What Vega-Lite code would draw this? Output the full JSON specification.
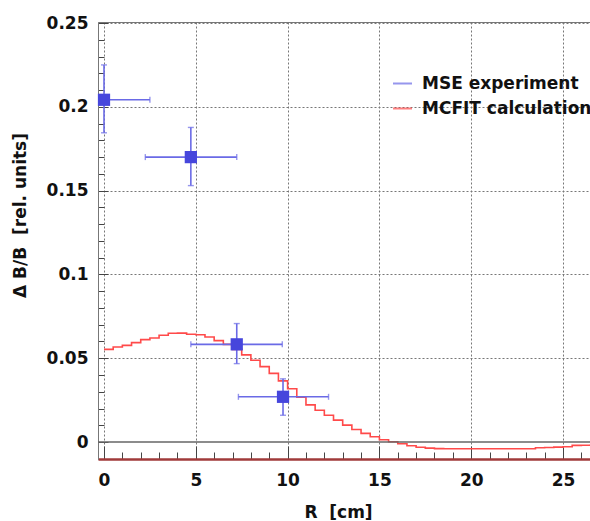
{
  "$schema": "https://vega.github.io/schema/vega-lite/v6.json",
  "width": 492,
  "height": 437,
  "autosize": {"type": "none"},
  "padding": {"left": 98, "top": 22, "right": 0, "bottom": 62},
  "background": "white",
  "config": {
    "view": {"stroke": "#777", "strokeWidth": 1},
    "font": "DejaVu Sans"
  },
  "datasets": {
    "pts": [
      {"series": "MSE experiment", "r": 0, "rlo": -2.5, "rhi": 2.5, "v": 0.2042, "vlo": 0.1845, "vhi": 0.225},
      {"series": "MSE experiment", "r": 4.73, "rlo": 2.25, "rhi": 7.23, "v": 0.170, "vlo": 0.153, "vhi": 0.1877},
      {"series": "MSE experiment", "r": 7.23, "rlo": 4.73, "rhi": 9.71, "v": 0.0583, "vlo": 0.0468, "vhi": 0.0707},
      {"series": "MSE experiment", "r": 9.75, "rlo": 7.32, "rhi": 12.23, "v": 0.027, "vlo": 0.016, "vhi": 0.0377}
    ],
    "hist": [
      {"series": "MCFIT calculation", "r": 0, "v": 0.0553},
      {"series": "MCFIT calculation", "r": 0.5, "v": 0.0567},
      {"series": "MCFIT calculation", "r": 1, "v": 0.0577},
      {"series": "MCFIT calculation", "r": 1.5, "v": 0.0593},
      {"series": "MCFIT calculation", "r": 2, "v": 0.0611},
      {"series": "MCFIT calculation", "r": 2.5, "v": 0.0621},
      {"series": "MCFIT calculation", "r": 3, "v": 0.0637},
      {"series": "MCFIT calculation", "r": 3.5, "v": 0.0649},
      {"series": "MCFIT calculation", "r": 4, "v": 0.0650},
      {"series": "MCFIT calculation", "r": 4.5, "v": 0.0643},
      {"series": "MCFIT calculation", "r": 5, "v": 0.0640},
      {"series": "MCFIT calculation", "r": 5.5, "v": 0.0627},
      {"series": "MCFIT calculation", "r": 6, "v": 0.0605},
      {"series": "MCFIT calculation", "r": 6.5, "v": 0.0583},
      {"series": "MCFIT calculation", "r": 7, "v": 0.0553},
      {"series": "MCFIT calculation", "r": 7.5, "v": 0.0520},
      {"series": "MCFIT calculation", "r": 8, "v": 0.0488},
      {"series": "MCFIT calculation", "r": 8.5, "v": 0.0450},
      {"series": "MCFIT calculation", "r": 9, "v": 0.0410},
      {"series": "MCFIT calculation", "r": 9.5, "v": 0.0365},
      {"series": "MCFIT calculation", "r": 10, "v": 0.0318},
      {"series": "MCFIT calculation", "r": 10.5, "v": 0.0268},
      {"series": "MCFIT calculation", "r": 11, "v": 0.0222},
      {"series": "MCFIT calculation", "r": 11.5, "v": 0.0190},
      {"series": "MCFIT calculation", "r": 12, "v": 0.0160},
      {"series": "MCFIT calculation", "r": 12.5, "v": 0.0131},
      {"series": "MCFIT calculation", "r": 13, "v": 0.0101},
      {"series": "MCFIT calculation", "r": 13.5, "v": 0.0075},
      {"series": "MCFIT calculation", "r": 14, "v": 0.0052},
      {"series": "MCFIT calculation", "r": 14.5, "v": 0.0032},
      {"series": "MCFIT calculation", "r": 15, "v": 0.0014},
      {"series": "MCFIT calculation", "r": 15.5, "v": 0.0002},
      {"series": "MCFIT calculation", "r": 16, "v": -0.0010},
      {"series": "MCFIT calculation", "r": 16.5, "v": -0.0022},
      {"series": "MCFIT calculation", "r": 17, "v": -0.0031},
      {"series": "MCFIT calculation", "r": 17.5, "v": -0.0036},
      {"series": "MCFIT calculation", "r": 18, "v": -0.0039},
      {"series": "MCFIT calculation", "r": 18.5, "v": -0.0040},
      {"series": "MCFIT calculation", "r": 19, "v": -0.0040},
      {"series": "MCFIT calculation", "r": 19.5, "v": -0.0040},
      {"series": "MCFIT calculation", "r": 20, "v": -0.0040},
      {"series": "MCFIT calculation", "r": 20.5, "v": -0.0040},
      {"series": "MCFIT calculation", "r": 21, "v": -0.0040},
      {"series": "MCFIT calculation", "r": 21.5, "v": -0.0040},
      {"series": "MCFIT calculation", "r": 22, "v": -0.0040},
      {"series": "MCFIT calculation", "r": 22.5, "v": -0.0040},
      {"series": "MCFIT calculation", "r": 23, "v": -0.0040},
      {"series": "MCFIT calculation", "r": 23.5, "v": -0.0034},
      {"series": "MCFIT calculation", "r": 24, "v": -0.0032},
      {"series": "MCFIT calculation", "r": 24.5, "v": -0.0030},
      {"series": "MCFIT calculation", "r": 25, "v": -0.0028},
      {"series": "MCFIT calculation", "r": 25.5, "v": -0.0020},
      {"series": "MCFIT calculation", "r": 26, "v": -0.0019},
      {"series": "MCFIT calculation", "r": 26.5, "v": -0.0018},
      {"series": "MCFIT calculation", "r": 27, "v": -0.0018}
    ],
    "zero": [{"v": 0}]
  },
  "layer": [
    {
      "data": {"name": "hist"},
      "mark": {"type": "line", "interpolate": "step-after", "strokeWidth": 1.6, "clip": true},
      "encoding": {
        "x": {
          "field": "r", "type": "quantitative",
          "scale": {"domain": [-0.327, 26.47], "nice": false, "zero": false},
          "axis": {
            "title": "R\u00a0\u00a0[cm]",
            "titleFont": "DejaVu Sans", "titleFontSize": 17, "titleFontWeight": "bold", "titleColor": "#111",
            "titleX": 240, "titleY": 58, "titleAlign": "center", "titleBaseline": "alphabetic",
            "values": [0,1,2,3,4,5,6,7,8,9,10,11,12,13,14,15,16,17,18,19,20,21,22,23,24,25,26],
            "labelExpr": "datum.value % 5 == 0 ? datum.label : ''",
            "labelFont": "DejaVu Sans", "labelFontSize": 17, "labelFontWeight": "bold", "labelColor": "#111",
            "labelPadding": 26, "labelBaseline": "top",
            "tickSize": {"condition": {"test": "datum.value % 5 == 0", "value": -13}, "value": -7},
            "tickColor": "#444", "tickWidth": 1,
            "grid": true, "gridDash": [2, 2], "gridColor": "#777", "gridWidth": 1,
            "gridOpacity": {"condition": {"test": "datum.value % 5 == 0", "value": 1}, "value": 0},
            "domainColor": "#a03a3a", "domainWidth": 2.5
          }
        },
        "y": {
          "field": "v", "type": "quantitative",
          "scale": {"domain": [-0.0101, 0.2506], "nice": false, "zero": false},
          "axis": {
            "title": "Δ B/B\u00a0\u00a0[rel. units]",
            "titleFont": "DejaVu Sans", "titleFontSize": 17, "titleFontWeight": "bold", "titleColor": "#111",
            "titleAngle": -90, "titleX": -78, "titleY": 193, "titleAlign": "center", "titleBaseline": "middle",
            "values": [0,0.01,0.02,0.03,0.04,0.05,0.06,0.07,0.08,0.09,0.1,0.11,0.12,0.13,0.14,0.15,0.16,0.17,0.18,0.19,0.2,0.21,0.22,0.23,0.24,0.25],
            "labelExpr": "round(datum.value*100) % 5 == 0 ? '' + (round(datum.value*100)/100) : ''",
            "labelFont": "DejaVu Sans", "labelFontSize": 17, "labelFontWeight": "bold", "labelColor": "#111",
            "labelPadding": 20,
            "tickSize": {"condition": {"test": "round(datum.value*100) % 5 == 0", "value": -10}, "value": -6},
            "tickColor": "#444", "tickWidth": 1,
            "grid": true, "gridDash": [2, 2], "gridColor": "#777", "gridWidth": 1,
            "gridOpacity": {"condition": {"test": "round(datum.value*100) % 5 == 0 && datum.value > 0.001", "value": 1}, "value": 0},
            "domainColor": "#777", "domainWidth": 1
          }
        },
        "color": {
          "field": "series", "type": "nominal",
          "scale": {"domain": ["MSE experiment", "MCFIT calculation"], "range": ["#6a6ae6", "#ff4a4a"]},
          "legend": {
            "title": null, "orient": "none", "legendX": 294, "legendY": 51,
            "symbolType": "stroke", "symbolSize": 361, "symbolStrokeWidth": 2,
            "labelFont": "DejaVu Sans", "labelFontSize": 17, "labelFontWeight": "bold", "labelColor": "#111",
            "labelOffset": 9, "rowPadding": 6, "padding": 0, "labelLimit": 400
          }
        }
      }
    },
    {
      "data": {"name": "zero"},
      "mark": {"type": "rule", "color": "#666", "strokeWidth": 1.5},
      "encoding": {
        "y": {
          "field": "v", "type": "quantitative",
          "scale": {"domain": [-0.0101, 0.2506], "nice": false, "zero": false},
          "axis": {
            "title": "Δ B/B\u00a0\u00a0[rel. units]",
            "titleFont": "DejaVu Sans", "titleFontSize": 17, "titleFontWeight": "bold", "titleColor": "#111",
            "titleAngle": -90, "titleX": -78, "titleY": 193, "titleAlign": "center", "titleBaseline": "middle",
            "values": [0,0.01,0.02,0.03,0.04,0.05,0.06,0.07,0.08,0.09,0.1,0.11,0.12,0.13,0.14,0.15,0.16,0.17,0.18,0.19,0.2,0.21,0.22,0.23,0.24,0.25],
            "labelExpr": "round(datum.value*100) % 5 == 0 ? '' + (round(datum.value*100)/100) : ''",
            "labelFont": "DejaVu Sans", "labelFontSize": 17, "labelFontWeight": "bold", "labelColor": "#111",
            "labelPadding": 20,
            "tickSize": {"condition": {"test": "round(datum.value*100) % 5 == 0", "value": -10}, "value": -6},
            "tickColor": "#444", "tickWidth": 1,
            "grid": true, "gridDash": [2, 2], "gridColor": "#777", "gridWidth": 1,
            "gridOpacity": {"condition": {"test": "round(datum.value*100) % 5 == 0 && datum.value > 0.001", "value": 1}, "value": 0},
            "domainColor": "#777", "domainWidth": 1
          }
        }
      }
    },
    {
      "data": {"name": "pts"},
      "mark": {"type": "errorbar", "thickness": 1.6, "ticks": {"size": 6, "thickness": 1.4}, "clip": true},
      "encoding": {
        "x": {
          "field": "rlo", "type": "quantitative",
          "scale": {"domain": [-0.327, 26.47], "nice": false, "zero": false},
          "axis": {
            "title": "R\u00a0\u00a0[cm]",
            "titleFont": "DejaVu Sans", "titleFontSize": 17, "titleFontWeight": "bold", "titleColor": "#111",
            "titleX": 240, "titleY": 58, "titleAlign": "center", "titleBaseline": "alphabetic",
            "values": [0,1,2,3,4,5,6,7,8,9,10,11,12,13,14,15,16,17,18,19,20,21,22,23,24,25,26],
            "labelExpr": "datum.value % 5 == 0 ? datum.label : ''",
            "labelFont": "DejaVu Sans", "labelFontSize": 17, "labelFontWeight": "bold", "labelColor": "#111",
            "labelPadding": 26, "labelBaseline": "top",
            "tickSize": {"condition": {"test": "datum.value % 5 == 0", "value": -13}, "value": -7},
            "tickColor": "#444", "tickWidth": 1,
            "grid": true, "gridDash": [2, 2], "gridColor": "#777", "gridWidth": 1,
            "gridOpacity": {"condition": {"test": "datum.value % 5 == 0", "value": 1}, "value": 0},
            "domainColor": "#a03a3a", "domainWidth": 2.5
          }
        },
        "x2": {"field": "rhi"},
        "y": {
          "field": "v", "type": "quantitative",
          "scale": {"domain": [-0.0101, 0.2506], "nice": false, "zero": false},
          "axis": {
            "title": "Δ B/B\u00a0\u00a0[rel. units]",
            "titleFont": "DejaVu Sans", "titleFontSize": 17, "titleFontWeight": "bold", "titleColor": "#111",
            "titleAngle": -90, "titleX": -78, "titleY": 193, "titleAlign": "center", "titleBaseline": "middle",
            "values": [0,0.01,0.02,0.03,0.04,0.05,0.06,0.07,0.08,0.09,0.1,0.11,0.12,0.13,0.14,0.15,0.16,0.17,0.18,0.19,0.2,0.21,0.22,0.23,0.24,0.25],
            "labelExpr": "round(datum.value*100) % 5 == 0 ? '' + (round(datum.value*100)/100) : ''",
            "labelFont": "DejaVu Sans", "labelFontSize": 17, "labelFontWeight": "bold", "labelColor": "#111",
            "labelPadding": 20,
            "tickSize": {"condition": {"test": "round(datum.value*100) % 5 == 0", "value": -10}, "value": -6},
            "tickColor": "#444", "tickWidth": 1,
            "grid": true, "gridDash": [2, 2], "gridColor": "#777", "gridWidth": 1,
            "gridOpacity": {"condition": {"test": "round(datum.value*100) % 5 == 0 && datum.value > 0.001", "value": 1}, "value": 0},
            "domainColor": "#777", "domainWidth": 1
          }
        },
        "color": {"field": "series", "type": "nominal"}
      }
    },
    {
      "data": {"name": "pts"},
      "mark": {"type": "errorbar", "thickness": 1.6, "ticks": {"size": 6, "thickness": 1.4}, "clip": true},
      "encoding": {
        "y": {
          "field": "vlo", "type": "quantitative",
          "scale": {"domain": [-0.0101, 0.2506], "nice": false, "zero": false},
          "axis": {
            "title": "Δ B/B\u00a0\u00a0[rel. units]",
            "titleFont": "DejaVu Sans", "titleFontSize": 17, "titleFontWeight": "bold", "titleColor": "#111",
            "titleAngle": -90, "titleX": -78, "titleY": 193, "titleAlign": "center", "titleBaseline": "middle",
            "values": [0,0.01,0.02,0.03,0.04,0.05,0.06,0.07,0.08,0.09,0.1,0.11,0.12,0.13,0.14,0.15,0.16,0.17,0.18,0.19,0.2,0.21,0.22,0.23,0.24,0.25],
            "labelExpr": "round(datum.value*100) % 5 == 0 ? '' + (round(datum.value*100)/100) : ''",
            "labelFont": "DejaVu Sans", "labelFontSize": 17, "labelFontWeight": "bold", "labelColor": "#111",
            "labelPadding": 20,
            "tickSize": {"condition": {"test": "round(datum.value*100) % 5 == 0", "value": -10}, "value": -6},
            "tickColor": "#444", "tickWidth": 1,
            "grid": true, "gridDash": [2, 2], "gridColor": "#777", "gridWidth": 1,
            "gridOpacity": {"condition": {"test": "round(datum.value*100) % 5 == 0 && datum.value > 0.001", "value": 1}, "value": 0},
            "domainColor": "#777", "domainWidth": 1
          }
        },
        "y2": {"field": "vhi"},
        "x": {
          "field": "r", "type": "quantitative",
          "scale": {"domain": [-0.327, 26.47], "nice": false, "zero": false},
          "axis": {
            "title": "R\u00a0\u00a0[cm]",
            "titleFont": "DejaVu Sans", "titleFontSize": 17, "titleFontWeight": "bold", "titleColor": "#111",
            "titleX": 240, "titleY": 58, "titleAlign": "center", "titleBaseline": "alphabetic",
            "values": [0,1,2,3,4,5,6,7,8,9,10,11,12,13,14,15,16,17,18,19,20,21,22,23,24,25,26],
            "labelExpr": "datum.value % 5 == 0 ? datum.label : ''",
            "labelFont": "DejaVu Sans", "labelFontSize": 17, "labelFontWeight": "bold", "labelColor": "#111",
            "labelPadding": 26, "labelBaseline": "top",
            "tickSize": {"condition": {"test": "datum.value % 5 == 0", "value": -13}, "value": -7},
            "tickColor": "#444", "tickWidth": 1,
            "grid": true, "gridDash": [2, 2], "gridColor": "#777", "gridWidth": 1,
            "gridOpacity": {"condition": {"test": "datum.value % 5 == 0", "value": 1}, "value": 0},
            "domainColor": "#a03a3a", "domainWidth": 2.5
          }
        },
        "color": {"field": "series", "type": "nominal"}
      }
    },
    {
      "data": {"name": "pts"},
      "mark": {"type": "square", "size": 150, "color": "#4646dc", "opacity": 1, "clip": false},
      "encoding": {
        "x": {
          "field": "r", "type": "quantitative",
          "scale": {"domain": [-0.327, 26.47], "nice": false, "zero": false},
          "axis": {
            "title": "R\u00a0\u00a0[cm]",
            "titleFont": "DejaVu Sans", "titleFontSize": 17, "titleFontWeight": "bold", "titleColor": "#111",
            "titleX": 240, "titleY": 58, "titleAlign": "center", "titleBaseline": "alphabetic",
            "values": [0,1,2,3,4,5,6,7,8,9,10,11,12,13,14,15,16,17,18,19,20,21,22,23,24,25,26],
            "labelExpr": "datum.value % 5 == 0 ? datum.label : ''",
            "labelFont": "DejaVu Sans", "labelFontSize": 17, "labelFontWeight": "bold", "labelColor": "#111",
            "labelPadding": 26, "labelBaseline": "top",
            "tickSize": {"condition": {"test": "datum.value % 5 == 0", "value": -13}, "value": -7},
            "tickColor": "#444", "tickWidth": 1,
            "grid": true, "gridDash": [2, 2], "gridColor": "#777", "gridWidth": 1,
            "gridOpacity": {"condition": {"test": "datum.value % 5 == 0", "value": 1}, "value": 0},
            "domainColor": "#a03a3a", "domainWidth": 2.5
          }
        },
        "y": {
          "field": "v", "type": "quantitative",
          "scale": {"domain": [-0.0101, 0.2506], "nice": false, "zero": false},
          "axis": {
            "title": "Δ B/B\u00a0\u00a0[rel. units]",
            "titleFont": "DejaVu Sans", "titleFontSize": 17, "titleFontWeight": "bold", "titleColor": "#111",
            "titleAngle": -90, "titleX": -78, "titleY": 193, "titleAlign": "center", "titleBaseline": "middle",
            "values": [0,0.01,0.02,0.03,0.04,0.05,0.06,0.07,0.08,0.09,0.1,0.11,0.12,0.13,0.14,0.15,0.16,0.17,0.18,0.19,0.2,0.21,0.22,0.23,0.24,0.25],
            "labelExpr": "round(datum.value*100) % 5 == 0 ? '' + (round(datum.value*100)/100) : ''",
            "labelFont": "DejaVu Sans", "labelFontSize": 17, "labelFontWeight": "bold", "labelColor": "#111",
            "labelPadding": 20,
            "tickSize": {"condition": {"test": "round(datum.value*100) % 5 == 0", "value": -10}, "value": -6},
            "tickColor": "#444", "tickWidth": 1,
            "grid": true, "gridDash": [2, 2], "gridColor": "#777", "gridWidth": 1,
            "gridOpacity": {"condition": {"test": "round(datum.value*100) % 5 == 0 && datum.value > 0.001", "value": 1}, "value": 0},
            "domainColor": "#777", "domainWidth": 1
          }
        }
      }
    }
  ]
}
